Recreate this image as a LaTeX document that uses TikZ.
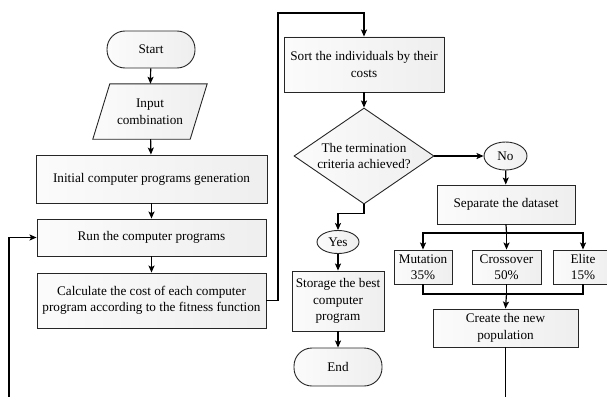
\documentclass[tikz,border=0pt]{standalone}
\usepackage{fontspec}
\setmainfont{Liberation Serif}
\usetikzlibrary{arrows.meta,shapes.geometric,backgrounds,calc}
\begin{document}
\begin{tikzpicture}[x=1pt,y=-1pt,
  every node/.style={font=\fontsize{13.2}{16.5}\selectfont, align=center, inner sep=0pt},
  boxfill/.style={draw=black!85, line width=0.9pt, left color=gray!3, right color=gray!13},
  proc/.style={boxfill, rectangle},
  term/.style={boxfill, rectangle, rounded corners=18pt},
  oval/.style={boxfill, ellipse},
  arr/.style={line width=1.2pt, -{Stealth[length=7pt,width=6pt,inset=1.5pt]}},
  ln/.style={line width=1.2pt}]
\useasboundingbox (0,0) rectangle (607,396);
\node[term, minimum width=88pt, minimum height=37pt] (start) at (151,49.5) {Start};
\node[rectangle, minimum width=97pt, minimum height=55pt] (in) at (150,111.5) {Input\\combination};
\begin{scope}[on background layer]
\draw[boxfill] ($(in.south west)+(-8.5,0)$) -- ($(in.north west)+(8.5,0)$) -- ($(in.north east)+(8.5,0)$) -- ($(in.south east)+(-8.5,0)$) -- cycle;
\end{scope}
\node[proc, minimum width=231pt, minimum height=48pt] (init) at (151.5,179) {Initial computer programs generation};
\node[proc, minimum width=229pt, minimum height=37pt] (run) at (151.5,237.5) {Run the computer programs};
\node[proc, minimum width=229pt, minimum height=55pt] (calc) at (151.5,300.5) {Calculate the cost of each computer\\program according to the fitness function};
\node[proc, minimum width=160pt, minimum height=55pt] (sort) at (364,64.5) {Sort the individuals by their\\costs};
\node[boxfill, diamond, aspect=1.46, minimum width=140pt, minimum height=96pt, inner sep=-3pt] (dec) at (364,156) {The termination\\criteria achieved?};
\node[oval, minimum width=43pt, minimum height=28pt] (no) at (505.5,156) {No};
\node[proc, minimum width=138pt, minimum height=39pt] (sep) at (506,204.5) {Separate the dataset};
\node[oval, minimum width=42pt, minimum height=23pt] (yes) at (338,242) {Yes};
\node[proc, minimum width=92pt, minimum height=60pt] (store) at (338,301) {Storage the best\\computer\\program};
\node[term, minimum width=88pt, minimum height=38pt] (end) at (338,367) {End};
\node[proc, minimum width=58pt, minimum height=34pt] (mut) at (423,267) {Mutation\\35\%};
\node[proc, minimum width=69pt, minimum height=34pt] (cro) at (506.5,267) {Crossover\\50\%};
\node[proc, minimum width=60pt, minimum height=34pt] (eli) at (583,267) {Elite\\15\%};
\node[proc, minimum width=145pt, minimum height=38pt] (new) at (505.5,328) {Create the new\\population};
\coordinate (top) at (278,13);
\coordinate (fb) at (9,404);
\coordinate (br) at (506.5,233);
\coordinate (mg) at (506.5,294);
\draw[arr] (start) -- (in);
\draw[arr] (in) -- (init);
\draw[arr] (init) -- (run);
\draw[arr] (run) -- (calc);
\draw[arr] (calc.east) -| (top) -| (sort.north);
\draw[arr] (sort) -- (dec);
\draw[arr] (dec.east) -- (no.west);
\draw[arr] (no) -- (sep);
\draw[arr] (dec.south) -- ++(0,9) -| (yes.north);
\draw[arr] (yes) -- (store);
\draw[arr] (store) -- (end);
\draw[ln] (sep.south) -- (br);
\draw[arr] (br) -| (mut.north);
\draw[arr] (br) -- (cro.north);
\draw[arr] (br) -| (eli.north);
\draw[ln] (mut.south) |- (mg);
\draw[ln] (eli.south) |- (mg);
\draw[ln] (cro.south) -- (mg);
\draw[arr] (mg) -- (new.north);
\draw[arr] (new.south) |- (fb) |- (run.west);
\end{tikzpicture}
\end{document}
